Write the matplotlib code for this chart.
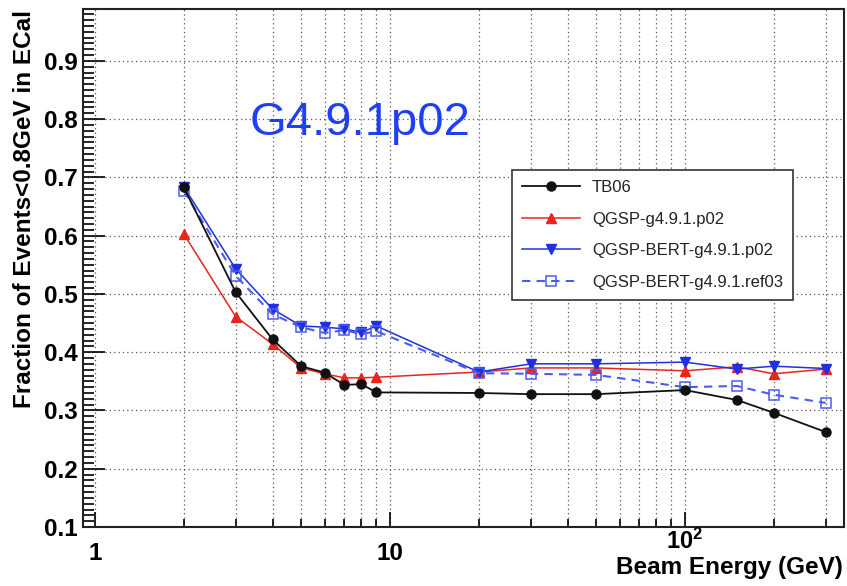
import numpy as np
import matplotlib
matplotlib.use('Agg')
from matplotlib import pyplot as plt
from matplotlib.ticker import MultipleLocator, LogLocator, FixedLocator, FixedFormatter, NullFormatter

plt.rcParams['font.family'] = ['Liberation Sans', 'DejaVu Sans']
plt.rcParams['mathtext.fontset'] = 'custom'
plt.rcParams['mathtext.rm'] = 'Liberation Sans'
plt.rcParams['mathtext.bf'] = 'Liberation Sans:bold'

# beam energies (GeV)
energy = [2, 3, 4, 5, 6, 7, 8, 9, 20, 30, 50, 100, 150, 200, 300]

tb06 = [0.683, 0.503, 0.422, 0.376, 0.365, 0.344, 0.345, 0.331,
        0.330, 0.328, 0.328, 0.335, 0.318, 0.296, 0.263]
qgsp = [0.603, 0.461, 0.414, 0.373, 0.363, 0.356, 0.356, 0.357,
        0.366, 0.373, 0.373, 0.368, 0.375, 0.363, 0.371]
qgsp_bert = [0.684, 0.543, 0.474, 0.445, 0.443, 0.440, 0.434, 0.445,
             0.366, 0.380, 0.380, 0.383, 0.371, 0.376, 0.372]
qgsp_bert_ref03 = [0.677, 0.531, 0.465, 0.443, 0.433, 0.438, 0.431, 0.436,
                   0.364, 0.363, 0.361, 0.340, 0.342, 0.327, 0.313]

labels = ['TB06', 'QGSP-g4.9.1.p02', 'QGSP-BERT-g4.9.1.p02', 'QGSP-BERT-g4.9.1.ref03']

W, H = 847, 586
fig = plt.figure(figsize=(W/100, H/100), dpi=100)
ax = fig.add_axes([83/W, 1-527/H, (844-83)/W, (527-9)/H])

ax.plot(energy, tb06, color='#111111', lw=1.3, marker='o', ms=6.5, label=labels[0], zorder=4)
ax.plot(energy, qgsp, color='#e8261e', lw=1.1, marker='^', ms=6.5, label=labels[1], zorder=3)
ax.plot(energy, qgsp_bert, color='#2030e0', lw=1.1, marker='v', ms=6.5, label=labels[2], zorder=3)
ax.plot(energy, qgsp_bert_ref03, color='#4a5cf0', lw=1.5, ls=(0, (4, 3)), marker='s', ms=6.5,
        mfc='none', mec='#4a5cf0', mew=1.1, label=labels[3], zorder=3)

ax.set_xscale('log')
ax.set_xlim(0.911, 346)
ax.set_ylim(0.1, 0.989)

ax.xaxis.set_major_locator(FixedLocator([1, 10, 100]))
ax.xaxis.set_major_formatter(FixedFormatter(['1', '10', '']))
ax.xaxis.set_minor_locator(LogLocator(base=10, subs=np.arange(2, 10)))
ax.xaxis.set_minor_formatter(NullFormatter())
ax.yaxis.set_minor_locator(MultipleLocator(0.01))
ax.set_yticks(np.arange(0.1, 0.95, 0.1))
ax.set_yticklabels(['%.1f' % v for v in np.arange(0.1, 0.95, 0.1)])

ax.tick_params(which='both', direction='in', top=False, right=False, labelsize=17.5, width=1.2)
ax.tick_params(axis='x', which='major', length=11, pad=10.5)
ax.tick_params(axis='x', which='minor', length=5.5)
ax.tick_params(axis='y', which='major', length=16, pad=4)
ax.tick_params(axis='y', which='minor', length=8)
for t in ax.get_xticklabels() + ax.get_yticklabels():
    t.set_fontweight('bold')

# the 10^2 label sits right above the axis title
ax.text(100, -22/518, r'$\mathbf{10^{2}}$', transform=ax.get_xaxis_transform(),
        fontsize=17, ha='center', va='baseline')

gs = dict(color='#555555', ls=(0, (1, 2.5)), lw=0.9)
ax.grid(True, which='both', axis='x', **gs)
ax.grid(True, which='major', axis='y', **gs)

for s in ax.spines.values():
    s.set_linewidth(1.5)
    s.set_color('#222222')

leg = ax.legend(loc='upper left', bbox_to_anchor=(512/W, 1-170/H), bbox_transform=fig.transFigure,
                fontsize=12, frameon=True, fancybox=False, framealpha=1, edgecolor='#333333',
                handlelength=3.5, handletextpad=0.7, labelspacing=1.0, borderpad=0.6,
                borderaxespad=0)
leg.get_frame().set_linewidth(1.2)
for txt in leg.get_texts():
    txt.set_color('#222222')

fig.text(250/W, 1-135/H, 'G4.9.1p02', color='#1f3ff2', fontsize=34, ha='left', va='baseline')
fig.text(843/W, 1-574/H, 'Beam Energy (GeV)', fontsize=17.5, fontweight='bold',
         ha='right', va='baseline')
fig.text(25/W, 1-10/H, 'Fraction of Events<0.8GeV in ECal', fontsize=17.5, fontweight='bold',
         rotation=90, ha='center', va='top')

plt.savefig('out.png', dpi=100)
